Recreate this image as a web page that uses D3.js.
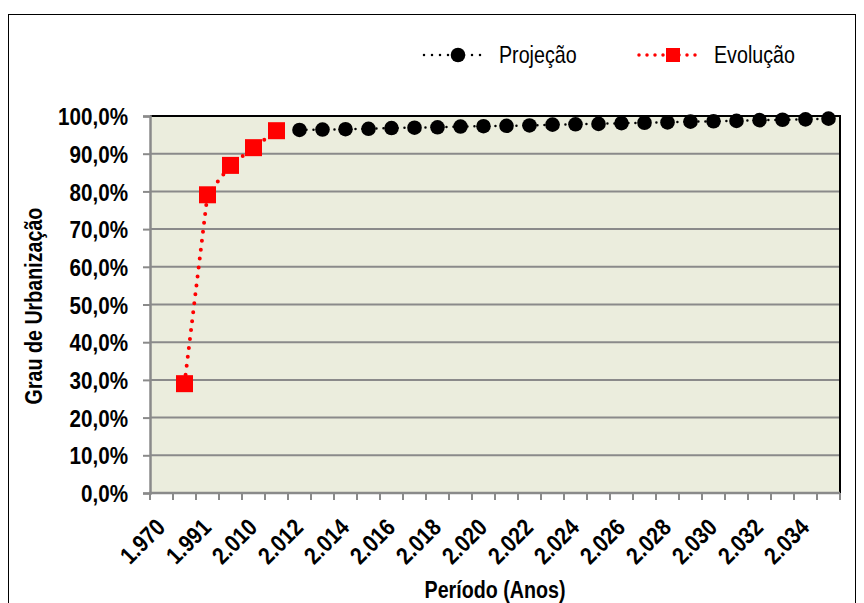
<!DOCTYPE html>
<html>
<head>
<meta charset="utf-8">
<script src="https://cdn.jsdelivr.net/npm/d3@7"></script>
<style>
  html, body { margin: 0; padding: 0; background: #ffffff; }
  svg { display: block; }
  text { font-family: "Liberation Sans", Arial, sans-serif; }
</style>
</head>
<body>
<svg id="chart" width="864" height="603"></svg>
<script>
// Periods on the category axis (only every other one is labelled)
const periods = ["1.970", "1.980", "1.991", "2.000", "2.010", "2.011",
  "2.012", "2.013", "2.014", "2.015", "2.016", "2.017", "2.018", "2.019",
  "2.020", "2.021", "2.022", "2.023", "2.024", "2.025", "2.026", "2.027",
  "2.028", "2.029", "2.030", "2.031", "2.032", "2.033", "2.034", "2.035"];

// Observed urbanisation rate (Evolução)
const evolucao = [null, 0.290, 0.791, 0.869, 0.916, 0.961,
  null, null, null, null, null, null, null, null, null, null, null, null,
  null, null, null, null, null, null, null, null, null, null, null, null];

// Projected urbanisation rate (Projeção)
const projecao = [null, null, null, null, null, null,
  0.963, 0.964, 0.965, 0.966, 0.968, 0.969, 0.970, 0.972, 0.973, 0.974,
  0.975, 0.977, 0.978, 0.979, 0.981, 0.982, 0.983, 0.985, 0.986, 0.987,
  0.989, 0.990, 0.991, 0.993];

const yTicks = [0, 0.1, 0.2, 0.3, 0.4, 0.5, 0.6, 0.7, 0.8, 0.9, 1.0];

// Horizontal squeeze that turns the sans face into a narrow one
const NARROW = 0.82;
const NARROW_TICK = 0.86;

const svg = d3.select("#chart");
const plot = { left: 150, right: 840, top: 116, bottom: 493 };

const ptBR = d3.formatLocale({ decimal: ",", thousands: ".", grouping: [3], currency: ["R$", ""] });
const pct = ptBR.format(".1%");

const x = d3.scaleBand().domain(periods).range([plot.left, plot.right]).padding(0);
const y = d3.scaleLinear().domain([0, 1]).range([plot.bottom, plot.top]);
const cx = c => x(c) + x.bandwidth() / 2;

// Outer frame
svg.append("rect")
  .attr("x", 8.5).attr("y", 14.5).attr("width", 847).attr("height", 640)
  .attr("fill", "#ffffff").attr("stroke", "#000000").attr("stroke-width", 1);

// Plot background
svg.append("rect")
  .attr("x", plot.left).attr("y", plot.top)
  .attr("width", plot.right - plot.left).attr("height", plot.bottom - plot.top)
  .attr("fill", "#ebeddd");

// Horizontal gridlines
svg.append("g").selectAll("line")
  .data(yTicks.filter(t => t > 0 && t < 1))
  .join("line")
  .attr("x1", plot.left).attr("x2", plot.right)
  .attr("y1", d => y(d)).attr("y2", d => y(d))
  .attr("stroke", "#8a8a8a").attr("stroke-width", 2);

// Top and right plot borders
svg.append("line")
  .attr("x1", plot.left).attr("x2", plot.right + 1)
  .attr("y1", y(1)).attr("y2", y(1))
  .attr("stroke", "#000000").attr("stroke-width", 2);
svg.append("line")
  .attr("x1", plot.right).attr("x2", plot.right)
  .attr("y1", plot.top).attr("y2", plot.bottom)
  .attr("stroke", "#000000").attr("stroke-width", 2);

// Y axis
const yAxis = svg.append("g")
  .attr("transform", `translate(${plot.left},0)`)
  .call(d3.axisLeft(y).tickValues(yTicks).tickFormat(pct).tickSize(7));
yAxis.select(".domain").attr("stroke", "#8a8a8a").attr("stroke-width", 2.5);
yAxis.selectAll(".tick line").attr("stroke", "#8a8a8a").attr("stroke-width", 2);
yAxis.selectAll(".tick text")
  .attr("x", 0).attr("dy", "0.36em")
  .attr("transform", `translate(-22,0) scale(${NARROW_TICK},1)`)
  .attr("font-size", 24).attr("font-weight", "bold").attr("fill", "#000000");

// X axis: tick marks on category boundaries
svg.append("g").selectAll("line")
  .data(periods.concat([null]))
  .join("line")
  .attr("x1", (d, i) => i < periods.length ? x(d) : plot.right)
  .attr("x2", (d, i) => i < periods.length ? x(d) : plot.right)
  .attr("y1", plot.bottom).attr("y2", plot.bottom + 7)
  .attr("stroke", "#8a8a8a").attr("stroke-width", 2);
svg.append("line")
  .attr("x1", plot.left - 1).attr("x2", plot.right)
  .attr("y1", plot.bottom).attr("y2", plot.bottom)
  .attr("stroke", "#8a8a8a").attr("stroke-width", 2.5);

// X axis labels, every other period, rotated
const xAxis = svg.append("g")
  .attr("transform", `translate(0,${plot.bottom})`)
  .call(d3.axisBottom(x)
    .tickFormat((d, i) => i % 2 === 0 ? d : "")
    .tickSize(0).tickPadding(0));
xAxis.select(".domain").remove();
xAxis.selectAll(".tick text")
  .attr("y", 0).attr("dy", 0)
  .attr("text-anchor", "end")
  .attr("font-size", 24).attr("font-weight", "bold").attr("fill", "#000000")
  .attr("transform", `translate(5,36) rotate(-45) scale(${NARROW_TICK},1)`);

// Series lines
const line = vals => d3.line()
  .defined(d => d.v !== null)
  .x(d => cx(d.c)).y(d => y(d.v))(periods.map((c, i) => ({ c, v: vals[i] })));

svg.append("path")
  .attr("d", line(projecao))
  .attr("fill", "none").attr("stroke", "#000000").attr("stroke-width", 2.5)
  .attr("stroke-linecap", "round").attr("stroke-dasharray", "0,7");

svg.append("path")
  .attr("d", line(evolucao))
  .attr("fill", "none").attr("stroke", "#ff0000").attr("stroke-width", 4)
  .attr("stroke-linecap", "round").attr("stroke-dasharray", "0,9");

// Markers
svg.append("g").selectAll("circle")
  .data(periods.map((c, i) => ({ c, v: projecao[i] })).filter(d => d.v !== null))
  .join("circle")
  .attr("cx", d => cx(d.c)).attr("cy", d => y(d.v)).attr("r", 7.3)
  .attr("fill", "#000000");

const sq = 17;
svg.append("g").selectAll("rect")
  .data(periods.map((c, i) => ({ c, v: evolucao[i] })).filter(d => d.v !== null))
  .join("rect")
  .attr("x", d => cx(d.c) - sq / 2).attr("y", d => y(d.v) - sq / 2)
  .attr("width", sq).attr("height", sq)
  .attr("fill", "#ff0000");

// Axis titles
svg.append("text")
  .attr("transform", `translate(42,306) rotate(-90) scale(${NARROW},1)`)
  .attr("text-anchor", "middle")
  .attr("font-size", 24).attr("font-weight", "bold")
  .text("Grau de Urbanização");

svg.append("text")
  .attr("transform", `translate(495,598) scale(${NARROW},1)`)
  .attr("text-anchor", "middle")
  .attr("font-size", 24).attr("font-weight", "bold")
  .text("Período (Anos)");

// Legend
const legendItems = [
  { name: "Projeção", color: "#000000", x0: 422, shape: "circle", w: 2.5 },
  { name: "Evolução", color: "#ff0000", x0: 637, shape: "square", w: 3.5 }
];
legendItems.forEach(it => {
  const g = svg.append("g").attr("transform", `translate(${it.x0},55)`);
  g.append("line").attr("x1", 2).attr("x2", 64).attr("y1", 0).attr("y2", 0)
    .attr("stroke", it.color).attr("stroke-width", it.w)
    .attr("stroke-linecap", "round").attr("stroke-dasharray", "0,8");
  if (it.shape === "circle") {
    g.append("circle").attr("cx", 36).attr("cy", 0).attr("r", 7.3).attr("fill", it.color);
  } else {
    g.append("rect").attr("x", 29).attr("y", -7).attr("width", 14).attr("height", 14).attr("fill", it.color);
  }
  g.append("text")
    .attr("transform", `translate(77,8) scale(${NARROW},1)`)
    .attr("font-size", 24).attr("fill", "#000000").text(it.name);
});
</script>
</body>
</html>
